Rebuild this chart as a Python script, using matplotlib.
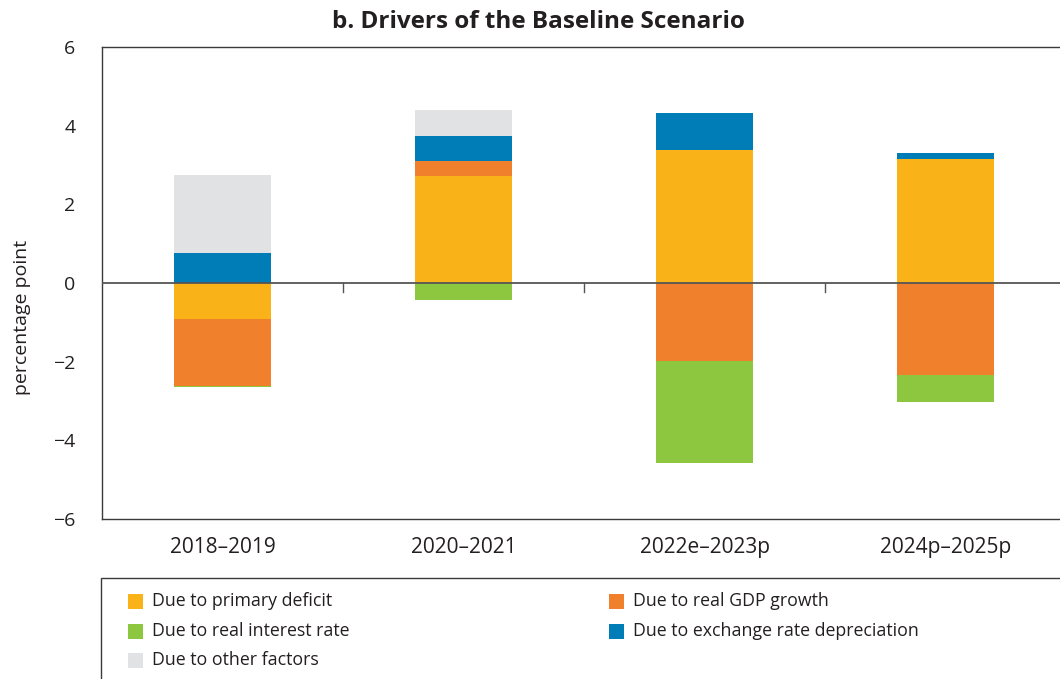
import matplotlib
matplotlib.use("Agg")
import matplotlib.pyplot as plt
from matplotlib.patches import Rectangle
import numpy as np

plt.rcParams['font.family'] = ['Open Sans', 'DejaVu Sans']

categories = ["2018\u20132019", "2020\u20132021", "2022e\u20132023p", "2024p\u20132025p"]
series_names = ["Due to primary deficit", "Due to real GDP growth", "Due to real interest rate",
                "Due to exchange rate depreciation", "Due to other factors"]
primary_deficit = [-0.92, 2.72, 3.39, 3.15]
real_gdp_growth = [-1.69, 0.37, -1.99, -2.35]
real_interest_rate = [-0.03, -0.43, -2.59, -0.68]
exchange_rate_dep = [0.755, 0.65, 0.94, 0.15]
other_factors = [2.0, 0.65, 0.0, 0.0]

colors = {"Due to primary deficit": "#F9B218",
          "Due to real GDP growth": "#F1802D",
          "Due to real interest rate": "#8DC63F",
          "Due to exchange rate depreciation": "#007DB7",
          "Due to other factors": "#E1E2E4"}

series = [primary_deficit, real_gdp_growth, real_interest_rate, exchange_rate_dep, other_factors]

W, H = 1060, 679
fig = plt.figure(figsize=(W / 100, H / 100), dpi=100)
ax_left, ax_right = 102, 1066
ax = fig.add_axes([ax_left / W, 1 - 519 / H, (ax_right - ax_left) / W, (519 - 47) / H])

x = np.arange(len(categories))
pos_base = np.zeros(len(categories))
neg_base = np.zeros(len(categories))
for name, vals in zip(series_names, series):
    vals = np.array(vals, dtype=float)
    bottoms = np.where(vals >= 0, pos_base, neg_base)
    ax.bar(x, vals, width=0.4, bottom=bottoms, color=colors[name], linewidth=0, zorder=2)
    pos_base = pos_base + np.where(vals >= 0, vals, 0)
    neg_base = neg_base + np.where(vals < 0, vals, 0)

ax.set_xlim(-0.5, 3.5)
ax.set_ylim(-6, 6)
ax.set_yticks([-6, -4, -2, 0, 2, 4, 6])
ax.set_yticklabels(["\u22126", "\u22124", "\u22122", "0", "2", "4", "6"])
ax.tick_params(axis='y', length=0, pad=19, labelsize=14, colors="#231F20")
ax.set_xticks(x)
ax.set_xticklabels(categories)
ax.tick_params(axis='x', length=0, pad=13, labelsize=15, colors="#231F20")

# zero line with boundary ticks
ax.axhline(0, color="#555555", linewidth=1.3, zorder=3)
for b in [0.5, 1.5, 2.5]:
    ax.plot([b, b], [0, -0.22], color="#555555", linewidth=1.0, zorder=3)

for s in ax.spines.values():
    s.set_color("#3a3a3a")
    s.set_linewidth(1.0)

ax.set_ylabel("percentage point", fontsize=14, color="#231F20")
ax.yaxis.set_label_coords((31 - ax_left) / (ax_right - ax_left), (519 - 317) / (519 - 47))

fig.text(538 / W, 1 - 22 / H, "b. Drivers of the Baseline Scenario", ha="center", va="center",
         fontsize=17.5, fontweight="bold", color="#231F20")

# legend box (manual)
fig.add_artist(Rectangle((101 / W, -0.05), (1070 - 101) / W, (1 - 578 / H) + 0.05,
                         transform=fig.transFigure, fill=False, edgecolor="#3a3a3a",
                         linewidth=1.0, clip_on=False))
legend_layout = [("Due to primary deficit", 128, 601),
                 ("Due to real GDP growth", 609, 601),
                 ("Due to real interest rate", 128, 631),
                 ("Due to exchange rate depreciation", 609, 631),
                 ("Due to other factors", 128, 660)]
for name, px, py in legend_layout:
    fig.add_artist(Rectangle((px / W, 1 - (py + 7.5) / H), 15 / W, 15 / H,
                             transform=fig.transFigure, facecolor=colors[name], edgecolor="none"))
    fig.text((px + 24) / W, 1 - py / H, name, ha="left", va="center", fontsize=12.8, color="#231F20")

fig.savefig("out.png", dpi=100)
